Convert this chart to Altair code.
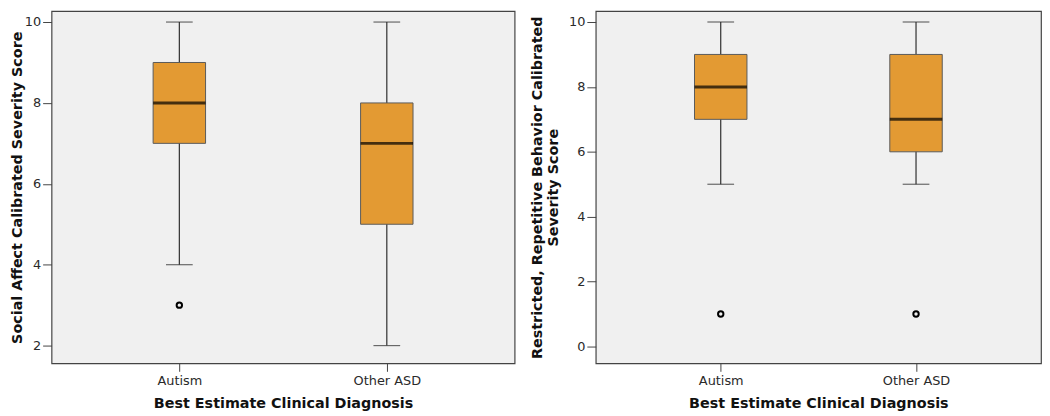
import altair as alt
import pandas as pd

groups = ["Autism", "Other ASD"]

# Social Affect panel (left)
sa_low = [4, 2]
sa_q1 = [7, 5]
sa_median = [8, 7]
sa_q3 = [9, 8]
sa_high = [10, 10]
sa_outlier_group = ["Autism"]
sa_outlier_value = [3]
sa_ticks = [2, 4, 6, 8, 10]

# Restricted, Repetitive Behavior panel (right)
rrb_low = [5, 5]
rrb_q1 = [7, 6]
rrb_median = [8, 7]
rrb_q3 = [9, 9]
rrb_high = [10, 10]
rrb_outlier_group = ["Autism", "Other ASD"]
rrb_outlier_value = [1, 1]
rrb_ticks = [0, 2, 4, 6, 8, 10]

x_title = "Best Estimate Clinical Diagnosis"
sa_title = "Social Affect Calibrated Severity Score"
rrb_title = ["Restricted, Repetitive Behavior Calibrated", "Severity Score"]

FILL = "#E39A33"
BOX_STROKE = "#5a5a5a"
LINE = "#2e2e2e"


def panel(low, q1, med, q3, high, og, ov, ticks, domain, ytitle, width, pad, ytitle_pad):
    stats = pd.DataFrame({"group": groups, "low": low, "q1": q1,
                          "median": med, "q3": q3, "high": high})
    outl = pd.DataFrame({"group": og, "value": ov})
    x_axis = alt.Axis(title=x_title, labelAngle=0, tickSize=8, labelPadding=3,
                      titlePadding=10)
    x_scale = alt.Scale(type="point", padding=pad, domain=groups)
    y_axis = alt.Axis(title=ytitle, values=ticks, tickSize=9, labelPadding=2,
                      titlePadding=ytitle_pad, titleLineHeight=16)
    y_scale = alt.Scale(domain=domain, nice=False, zero=False)

    def X():
        return alt.X("group:N", scale=x_scale, axis=x_axis)

    def Y(field):
        return alt.Y(field, type="quantitative", scale=y_scale, axis=y_axis)

    base = alt.Chart(stats)
    whisker = base.mark_rule(color=LINE, strokeWidth=1.2).encode(
        x=X(), y=Y("low"), y2="high")
    caps_low = base.mark_tick(color=LINE, size=27, thickness=1.2).encode(
        x=X(), y=Y("low"))
    caps_high = base.mark_tick(color=LINE, size=27, thickness=1.2).encode(
        x=X(), y=Y("high"))
    box = base.mark_bar(size=53, color=FILL, stroke=BOX_STROKE, strokeWidth=1).encode(
        x=X(), y=Y("q1"), y2="q3")
    median = base.mark_tick(color="#000000", size=53, thickness=3).encode(
        x=X(), y=Y("median"))
    points = alt.Chart(outl).mark_point(shape="circle", filled=False, color="#000000",
                                        size=30, strokeWidth=2, opacity=1).encode(
        x=X(), y=Y("value"))
    return alt.layer(whisker, caps_low, caps_high, box, median, points).properties(
        width=width, height=356)


left = panel(sa_low, sa_q1, sa_median, sa_q3, sa_high, sa_outlier_group, sa_outlier_value,
             sa_ticks, [1.56, 10.27], sa_title, 468, 0.616, 0)
right = panel(rrb_low, rrb_q1, rrb_median, rrb_q3, rrb_high, rrb_outlier_group,
              rrb_outlier_value, rrb_ticks, [-0.52, 10.335], rrb_title, 450, 0.64, 8)

chart = alt.hconcat(left, right, spacing=13).properties(
    padding={"left": 0, "top": 0, "right": 0, "bottom": 0}
).configure_view(
    fill="#F0F0F0", stroke="#444444", strokeWidth=1.2
).configure_axis(
    grid=False, domain=False,
    labelFont="DejaVu Sans", labelFontSize=13, labelColor="#2a2a2a",
    titleFont="DejaVu Sans", titleFontWeight="bold", titleFontSize=14.5,
    titleColor="#111111", tickColor="#444444"
)

chart.save("out.html", embed_options={"renderer": "svg", "actions": False})
